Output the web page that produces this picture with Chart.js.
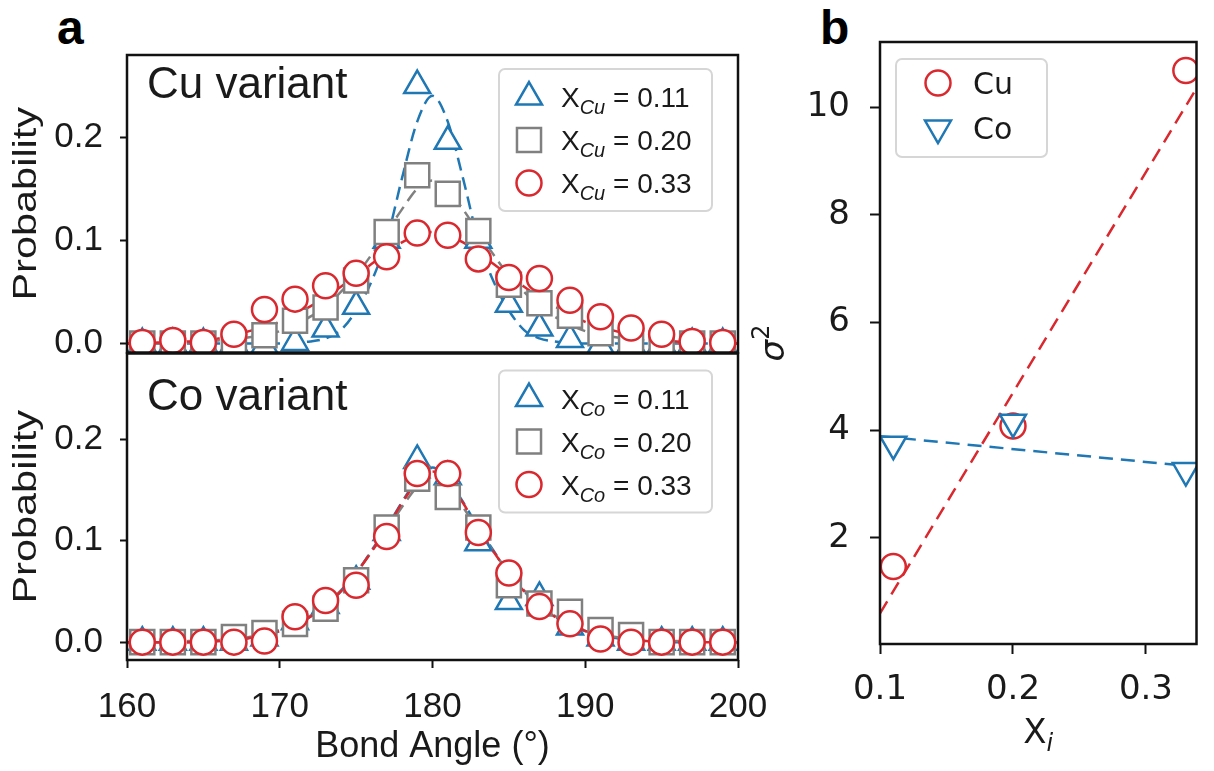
<!DOCTYPE html>
<html>
<head>
<meta charset="utf-8">
<script src="https://cdn.jsdelivr.net/npm/chart.js@4.4.0/dist/chart.umd.min.js"></script>
<style>
  html, body { margin: 0; padding: 0; background: #fff; }
  body { width: 1214px; height: 771px; position: relative; overflow: hidden; }
  .box { position: absolute; }
  .lbl { position: absolute; font: bold 48px "Liberation Sans", Arial, sans-serif; line-height: 1; color: #000; }
</style>
</head>
<body>
<div class="lbl" style="left:57px;top:4px">a</div>
<div class="lbl" style="left:820px;top:4px">b</div>
<div class="box" style="left:0;top:0;width:780px;height:372px"><canvas id="cuChart"></canvas></div>
<div class="box" style="left:0;top:334px;width:780px;height:437px"><canvas id="coChart"></canvas></div>
<div class="box" style="left:740px;top:0;width:474px;height:771px"><canvas id="sigmaChart"></canvas></div>
<script>
// ── data ─────────────────────────────────────────────────────────────────────
const angles = [161, 163, 165, 167, 169, 171, 173, 175, 177, 179, 181, 183, 185, 187, 189, 191, 193, 195, 197, 199];

// Cu variant, measured distributions
const cuX011 = [0, 0, 0, 0, -0.002, 0.001, 0.014, 0.036, 0.100, 0.250, 0.196, 0.100, 0.038, 0.015, 0.004, -0.002, 0, 0, 0, 0];
const cuX020 = [0, 0, 0, 0.001, 0.008, 0.022, 0.035, 0.061, 0.108, 0.163, 0.145, 0.109, 0.057, 0.039, 0.027, 0.010, 0.002, 0, 0, 0];
const cuX033 = [0.001, 0.003, 0.001, 0.009, 0.033, 0.043, 0.056, 0.068, 0.084, 0.107, 0.105, 0.082, 0.064, 0.063, 0.042, 0.026, 0.015, 0.009, 0.002, 0.001];

// Co variant, measured distributions
const coX011 = [0, 0, 0, 0, 0.004, 0.020, 0.036, 0.060, 0.108, 0.179, 0.163, 0.098, 0.040, 0.044, 0.015, 0.004, 0, 0, 0, 0];
const coX020 = [0, 0, 0, 0.005, 0.009, 0.018, 0.033, 0.061, 0.113, 0.161, 0.143, 0.113, 0.056, 0.038, 0.030, 0.012, 0.007, 0, 0, 0];
const coX033 = [0, 0, 0, 0, 0.001, 0.025, 0.041, 0.056, 0.104, 0.166, 0.166, 0.108, 0.068, 0.035, 0.018, 0.003, 0, 0, 0, 0];

// dashed fit curves, sampled every degree
const fitAngles = [160, 161, 162, 163, 164, 165, 166, 167, 168, 169, 170, 171, 172, 173, 174, 175, 176, 177, 178, 179, 180,
                   181, 182, 183, 184, 185, 186, 187, 188, 189, 190, 191, 192, 193, 194, 195, 196, 197, 198, 199, 200];
const cuFit011 = [0, 0, 0, 0, 0, 0, 0, 0, 0, 0, 0, 0.001, 0.002, 0.005, 0.013, 0.032, 0.06, 0.10, 0.16, 0.215, 0.24,
                  0.215, 0.16, 0.10, 0.06, 0.032, 0.013, 0.005, 0.002, 0.001, 0, 0, 0, 0, 0, 0, 0, 0, 0, 0, 0];
const cuFit020 = [0, 0, 0, 0.001, 0.001, 0.002, 0.003, 0.004, 0.006, 0.008, 0.012, 0.018, 0.026, 0.036, 0.05, 0.066, 0.086, 0.108, 0.13, 0.15, 0.158,
                  0.15, 0.13, 0.108, 0.086, 0.066, 0.05, 0.036, 0.026, 0.018, 0.012, 0.008, 0.006, 0.004, 0.003, 0.002, 0.001, 0.001, 0, 0, 0];
const cuFit033 = [0, 0, 0.001, 0.001, 0.002, 0.003, 0.005, 0.008, 0.012, 0.016, 0.021, 0.028, 0.036, 0.045, 0.055, 0.066, 0.077, 0.088, 0.098, 0.105, 0.108,
                  0.105, 0.098, 0.088, 0.077, 0.066, 0.055, 0.045, 0.036, 0.028, 0.021, 0.016, 0.012, 0.008, 0.005, 0.003, 0.002, 0.001, 0.001, 0, 0];
const coFit011 = [0, 0, 0, 0, 0, 0.001, 0.001, 0.002, 0.004, 0.007, 0.011, 0.017, 0.025, 0.036, 0.05, 0.068, 0.09, 0.113, 0.138, 0.16, 0.172,
                  0.16, 0.138, 0.113, 0.09, 0.068, 0.05, 0.036, 0.025, 0.017, 0.011, 0.007, 0.004, 0.002, 0.001, 0.001, 0, 0, 0, 0, 0];
const coFit020 = [0, 0, 0, 0, 0.001, 0.001, 0.002, 0.003, 0.005, 0.008, 0.012, 0.018, 0.026, 0.037, 0.051, 0.068, 0.089, 0.11, 0.133, 0.153, 0.162,
                  0.153, 0.133, 0.11, 0.089, 0.068, 0.051, 0.037, 0.026, 0.018, 0.012, 0.008, 0.005, 0.003, 0.002, 0.001, 0.001, 0, 0, 0, 0];
const coFit033 = [0, 0, 0, 0, 0, 0, 0.001, 0.002, 0.004, 0.007, 0.011, 0.017, 0.025, 0.036, 0.05, 0.068, 0.089, 0.112, 0.137, 0.158, 0.168,
                  0.158, 0.137, 0.112, 0.089, 0.068, 0.05, 0.036, 0.025, 0.017, 0.011, 0.007, 0.004, 0.002, 0.001, 0, 0, 0, 0, 0, 0];

const fractions = ['0.11', '0.20', '0.33'];
const angleTicks = [160, 170, 180, 190, 200];
const probTicks = [0, 0.1, 0.2];

// panel b: sigma^2 against composition
const xi = [0.11, 0.20, 0.33];
const sigmaCu = [1.47, 4.08, 10.68];
const sigmaCo = [3.74, 4.15, 3.25];
const xiFit = [0.10, 0.338];
const sigmaCuFit = [0.60, 10.35];
const sigmaCoFit = [3.89, 3.32];
const xiTicks = [0.1, 0.2, 0.3];
const sigmaTicks = [2, 4, 6, 8, 10];

// ── styling ──────────────────────────────────────────────────────────────────
const BLUE = '#1f77b4', GRAY = '#808080', RED = '#d9282e', INK = '#1a1a1a';
const ARIAL = '"Liberation Sans", Arial, sans-serif';
const DEJAVU = '"DejaVu Sans", sans-serif';
const TRI = { pointStyle: 'triangle', radius: 15, rotation: 0 };
const TRI_DOWN = { pointStyle: 'triangle', radius: 15, rotation: 180 };
const SQR = { pointStyle: 'rect', radius: 17, rotation: 0 };
const CIR = { pointStyle: 'circle', radius: 12.5, rotation: 0 };

const pts = (xs, ys) => xs.map((x, i) => ({ x, y: ys[i] }));

function markers(xs, ys, color, m, order) {
  return {
    data: pts(xs, ys), showLine: false, order, clip: 0,
    pointStyle: m.pointStyle, pointRadius: m.radius, pointRotation: m.rotation,
    pointBorderWidth: 2.5, pointBorderColor: color, pointBackgroundColor: '#fff',
    borderColor: color, backgroundColor: '#fff'
  };
}

function dashed(xs, ys, color, dash, order) {
  return {
    data: pts(xs, ys), showLine: true, order, clip: 0,
    borderColor: color, borderWidth: 2.5, borderDash: dash,
    pointRadius: 0, fill: false, cubicInterpolationMode: 'monotone'
  };
}

function drawMarker(ctx, m, x, y, color) {
  ctx.beginPath();
  if (m.pointStyle === 'circle') {
    ctx.arc(x, y, m.radius, 0, Math.PI * 2);
  } else if (m.pointStyle === 'rect') {
    const s = Math.SQRT1_2 * m.radius;
    ctx.rect(x - s, y - s, 2 * s, 2 * s);
  } else {
    let r = m.rotation * Math.PI / 180;
    ctx.moveTo(x + Math.sin(r) * m.radius, y - Math.cos(r) * m.radius);
    for (let k = 0; k < 2; k++) {
      r += 2 * Math.PI / 3;
      ctx.lineTo(x + Math.sin(r) * m.radius, y - Math.cos(r) * m.radius);
    }
    ctx.closePath();
  }
  ctx.fillStyle = '#fff';
  ctx.fill();
  ctx.lineWidth = 2.5;
  ctx.strokeStyle = color;
  ctx.stroke();
}

// text made of runs (for sub/superscripts)
function drawRuns(ctx, runs, x, y, align) {
  let total = 0;
  runs.forEach(r => { ctx.font = r.font; r.w = ctx.measureText(r.text).width; total += r.w; });
  let cx = align === 'center' ? x - total / 2 : x;
  runs.forEach(r => { ctx.font = r.font; ctx.fillText(r.text, cx, y + (r.dy || 0)); cx += r.w; });
}

function roundRect(ctx, x, y, w, h, r) {
  ctx.beginPath();
  ctx.moveTo(x + r, y);
  ctx.arcTo(x + w, y, x + w, y + h, r);
  ctx.arcTo(x + w, y + h, x, y + h, r);
  ctx.arcTo(x, y + h, x, y, r);
  ctx.arcTo(x, y, x + w, y, r);
  ctx.closePath();
}

const framePlugin = {
  id: 'frame',
  afterDatasetsDraw(chart) {
    const { ctx, chartArea: a } = chart;
    ctx.save();
    ctx.strokeStyle = '#111';
    ctx.lineWidth = 2.5;
    ctx.strokeRect(a.left, a.top, a.right - a.left, a.bottom - a.top);
    ctx.restore();
  }
};

function legendPlugin(spec) {
  return {
    id: 'markerLegend',
    afterDraw(chart) {
      const { ctx, chartArea: a } = chart;
      const bx = spec.fromRight ? a.right - spec.dx - spec.w : a.left + spec.dx;
      const by = a.top + spec.dy;
      ctx.save();
      roundRect(ctx, bx, by, spec.w, spec.h, 6);
      ctx.fillStyle = 'rgba(255,255,255,0.85)';
      ctx.fill();
      ctx.strokeStyle = '#d6d6d6';
      ctx.lineWidth = 2;
      ctx.stroke();
      spec.rows.forEach((row, i) => {
        const cy = by + spec.first + i * spec.gap;
        drawMarker(ctx, row.marker, bx + spec.markerX, cy, row.color);
        ctx.fillStyle = INK;
        ctx.textBaseline = 'alphabetic';
        drawRuns(ctx, row.runs, bx + spec.textX, cy + spec.baseline, 'left');
      });
      ctx.restore();
    }
  };
}

function variantLegend(el, dy) {
  const marks = [TRI, SQR, CIR], colors = [BLUE, GRAY, RED];
  return legendPlugin({
    fromRight: true, dx: 26, dy, w: 213, h: 142, first: 28, gap: 43,
    markerX: 30, textX: 62, baseline: 10,
    rows: fractions.map((f, i) => ({
      marker: marks[i], color: colors[i],
      runs: [
        { text: 'X', font: `28px ${ARIAL}` },
        { text: el, font: `italic 20px ${ARIAL}`, dy: 7 },
        { text: ` = ${f}`, font: `28px ${ARIAL}` }
      ]
    }))
  });
}

// panel caption plus the (slightly stretched) "Probability" axis label
function captionPlugin(text, dy) {
  return {
    id: 'caption',
    afterDraw(chart) {
      const { ctx, chartArea: a } = chart;
      ctx.save();
      ctx.fillStyle = INK;
      ctx.font = `44px ${ARIAL}`;
      ctx.textBaseline = 'alphabetic';
      ctx.fillText(text, a.left + 20, a.top + dy);
      ctx.translate(27, (a.top + a.bottom) / 2);
      ctx.rotate(-Math.PI / 2);
      ctx.scale(1.22, 1);
      ctx.font = `34px ${ARIAL}`;
      ctx.textAlign = 'center';
      ctx.textBaseline = 'middle';
      ctx.fillText('Probability', 0, 0);
      ctx.restore();
    }
  };
}

const tickGrid = len => ({ display: true, drawOnChartArea: false, drawTicks: true, tickLength: len, tickWidth: 2, color: '#111' });
const fixWidth = w => s => { s.width = w; s.paddingTop = 0; s.paddingBottom = 0; };
const fixHeight = h => s => { if (s.options.display) s.height = h; s.paddingLeft = 0; s.paddingRight = 0; };

function bondChart(id, series, fits, el, opts) {
  const [s011, s020, s033] = series;
  const [f011, f020, f033] = fits;
  return new Chart(document.getElementById(id).getContext('2d'), {
    type: 'scatter',
    data: {
      datasets: [
        markers(angles, s033, RED, CIR, 0),
        markers(angles, s020, GRAY, SQR, 1),
        markers(angles, s011, BLUE, TRI, 2),
        dashed(fitAngles, f033, RED, [13, 7], 3),
        dashed(fitAngles, f020, GRAY, [13, 7], 4),
        dashed(fitAngles, f011, BLUE, [13, 7], 5)
      ]
    },
    options: {
      responsive: true, maintainAspectRatio: false, animation: false, events: [],
      layout: { padding: { top: opts.top, right: 42, bottom: opts.bottom, left: 0 } },
      plugins: { legend: { display: false }, tooltip: { enabled: false } },
      scales: {
        x: {
          type: 'linear', min: 160, max: 200, display: opts.showX,
          afterBuildTicks: s => { s.ticks = angleTicks.map(v => ({ value: v })); },
          afterFit: fixHeight(111),
          grid: tickGrid(8), border: { display: false },
          ticks: { color: INK, font: { family: ARIAL, size: 35 }, padding: 18, maxRotation: 0, autoSkip: false },
          title: { display: true, text: 'Bond Angle (°)', color: INK, font: { family: ARIAL, size: 36 }, padding: { top: 0, bottom: 2 } }
        },
        y: {
          type: 'linear', min: opts.ymin, max: opts.ymax,
          afterBuildTicks: s => { s.ticks = probTicks.map(v => ({ value: v })); },
          afterFit: fixWidth(127),
          grid: tickGrid(7), border: { display: false },
          ticks: { color: INK, font: { family: ARIAL, size: 35 }, padding: 17, callback: v => v.toFixed(1) }
        }
      }
    },
    plugins: [framePlugin, variantLegend(el, opts.legendDy), captionPlugin(opts.caption, opts.captionDy)]
  });
}

bondChart('cuChart', [cuX011, cuX020, cuX033], [cuFit011, cuFit020, cuFit033], 'Cu',
  { top: 55, bottom: 8, showX: false, ymin: -0.0087, ymax: 0.2796, legendDy: 14, caption: 'Cu variant', captionDy: 43 });
bondChart('coChart', [coX011, coX020, coX033], [coFit011, coFit020, coFit033], 'Co',
  { top: 8, bottom: 0, showX: true, ymin: -0.0176, ymax: 0.2843, legendDy: 17, caption: 'Co variant', captionDy: 56 });

// ── panel b ──────────────────────────────────────────────────────────────────
const sigmaText = {
  id: 'sigmaText',
  afterDraw(chart) {
    const { ctx, chartArea: a } = chart;
    ctx.save();
    ctx.fillStyle = INK;
    ctx.textBaseline = 'alphabetic';
    drawRuns(ctx, [
      { text: 'X', font: `34px ${DEJAVU}` },
      { text: 'i', font: `italic 24px ${DEJAVU}`, dy: 8 }
    ], (a.left + a.right) / 2, a.bottom + 99, 'center');
    ctx.translate(a.left - 96, (a.top + a.bottom) / 2);
    ctx.rotate(-Math.PI / 2);
    drawRuns(ctx, [
      { text: 'σ', font: `italic 34px ${DEJAVU}` },
      { text: '2', font: `24px ${DEJAVU}`, dy: -15 }
    ], 0, 0, 'center');
    ctx.restore();
  }
};

new Chart(document.getElementById('sigmaChart').getContext('2d'), {
  type: 'scatter',
  data: {
    datasets: [
      markers(xi, sigmaCo, BLUE, TRI_DOWN, 0),
      markers(xi, sigmaCu, RED, CIR, 1),
      dashed(xiFit, sigmaCoFit, BLUE, [14, 8], 2),
      dashed(xiFit, sigmaCuFit, RED, [14, 8], 3)
    ]
  },
  options: {
    responsive: true, maintainAspectRatio: false, animation: false, events: [],
    layout: { padding: { top: 42, right: 3, bottom: 0, left: 0 } },
    plugins: { legend: { display: false }, tooltip: { enabled: false } },
    scales: {
      x: {
        type: 'linear', min: 0.1, max: 0.338,
        afterBuildTicks: s => { s.ticks = xiTicks.map(v => ({ value: v })); },
        afterFit: fixHeight(127),
        grid: tickGrid(10), border: { display: false },
        ticks: { color: INK, font: { family: DEJAVU, size: 34 }, padding: 16, maxRotation: 0, autoSkip: false, callback: v => v.toFixed(1) }
      },
      y: {
        type: 'linear', min: 0.03, max: 11.21,
        afterBuildTicks: s => { s.ticks = sigmaTicks.map(v => ({ value: v })); },
        afterFit: fixWidth(140),
        grid: tickGrid(10), border: { display: false },
        ticks: { color: INK, font: { family: DEJAVU, size: 34 }, padding: 20 }
      }
    }
  },
  plugins: [framePlugin, sigmaText, legendPlugin({
    fromRight: false, dx: 16, dy: 17, w: 151, h: 98, first: 24, gap: 45,
    markerX: 42, textX: 77, baseline: 11,
    rows: [
      { marker: CIR, color: RED, runs: [{ text: 'Cu', font: `30px ${DEJAVU}` }] },
      { marker: TRI_DOWN, color: BLUE, runs: [{ text: 'Co', font: `30px ${DEJAVU}` }] }
    ]
  })]
});
</script>
</body>
</html>
